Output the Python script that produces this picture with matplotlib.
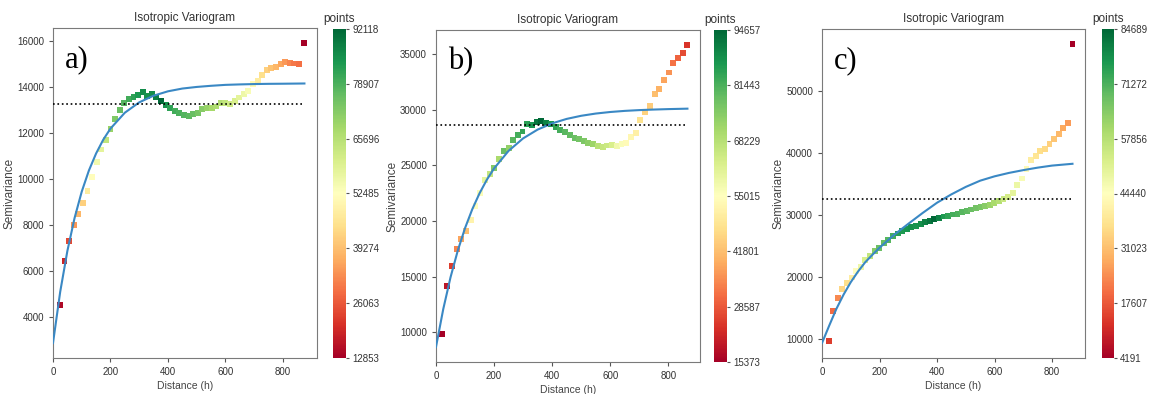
import numpy as np
import matplotlib.pyplot as plt

plt.rcParams['font.family'] = ['Liberation Sans', 'DejaVu Sans']

# --- values ---
lags_a = [24, 40, 56, 72, 88, 104, 120, 136, 152, 168, 184, 200, 216, 232, 248, 264, 280, 296,
          312, 328, 344, 360, 376, 392, 408, 424, 440, 456, 472, 488, 504, 520, 536, 552, 568,
          584, 600, 616, 632, 648, 664, 680, 696, 712, 728, 744, 760, 776, 792, 808, 824, 840,
          856, 875]
gamma_a = [4510, 6450, 7290, 7980, 8470, 8950, 9490, 10070, 10730, 11280, 11700, 12160, 12620,
           12990, 13320, 13470, 13580, 13640, 13790, 13610, 13680, 13540, 13390, 13200, 13100,
           12960, 12880, 12780, 12740, 12810, 12880, 13030, 13100, 13100, 13150, 13290, 13320,
           13250, 13390, 13540, 13680, 13830, 14120, 14270, 14520, 14750, 14810, 14850, 14980,
           15070, 15040, 15020, 15000, 15910]
counts_a = [14500, 19000, 24000, 34000, 38000, 42000, 48000, 52000, 55000, 58000, 64000, 70000,
            73000, 76000, 78000, 80000, 82000, 84000, 86000, 85000, 86000, 88000, 92118, 85000,
            82000, 80000, 79000, 78000, 77000, 76000, 74000, 72000, 70000, 68000, 67000, 66000,
            64000, 62000, 60000, 58000, 56000, 54000, 51000, 48000, 45000, 42000, 40000, 38000,
            36000, 34000, 32000, 30000, 29000, 12853]

lags_b = [22, 38, 55, 71, 87, 103, 120, 136, 152, 168, 185, 201, 217, 233, 250, 266, 282, 298,
          314, 331, 347, 363, 380, 396, 412, 428, 444, 461, 477, 493, 509, 525, 542, 558, 574,
          590, 607, 623, 639, 655, 672, 688, 704, 720, 736, 753, 769, 785, 801, 817, 834, 850,
          866]
gamma_b = [9820, 14190, 15990, 17520, 18360, 19110, 20100, 21390, 22500, 23700, 24200, 24810,
           25560, 26310, 26550, 27300, 27740, 28050, 28730, 28640, 28940, 29030, 28850, 28730,
           28490, 28190, 28040, 27740, 27440, 27350, 27230, 27050, 26900, 26760, 26670, 26790,
           26820, 26760, 26900, 27050, 27590, 27950, 29090, 29840, 30350, 31450, 31880, 32690,
           33350, 34190, 34640, 35090, 35810]
counts_b = [15373, 19000, 25000, 34000, 38000, 42000, 52000, 55000, 56000, 60000, 66000, 75000,
            70000, 78000, 73000, 80000, 82000, 84000, 85000, 87000, 92000, 94657, 90000, 86000,
            84000, 82000, 80000, 79000, 78000, 77000, 76000, 74000, 72000, 68000, 66000, 65000,
            63000, 58000, 56000, 54000, 53000, 51000, 48000, 45000, 44000, 42000, 40000, 38000,
            36000, 32000, 30000, 27000, 24000]

lags_c = [23, 39, 55, 71, 87, 103, 119, 135, 151, 167, 183, 199, 215, 231, 247, 263, 279, 295,
          311, 327, 343, 359, 375, 391, 407, 423, 439, 455, 471, 487, 503, 519, 535, 551, 567,
          583, 599, 615, 631, 647, 663, 679, 695, 711, 727, 743, 759, 775, 791, 807, 823, 839,
          855, 871]
gamma_c = [9730, 14560, 16610, 18170, 19050, 19950, 21050, 21700, 22750, 23400, 24250, 24700,
           25500, 26000, 26600, 27050, 27400, 27750, 28050, 28250, 28600, 28850, 29100, 29380,
           29600, 29780, 29900, 30100, 30200, 30450, 30700, 30900, 31160, 31300, 31500, 31700,
           31950, 32300, 32600, 32850, 33600, 34800, 35900, 37400, 38900, 39500, 40350, 40650,
           41500, 42300, 43000, 44000, 44900, 57570]
counts_c = [14000, 20000, 24000, 35000, 36500, 40000, 44000, 48000, 52000, 56000, 64000, 68000,
            68000, 70000, 72000, 75000, 76000, 77000, 78000, 77000, 78000, 80000, 82000, 84689,
            80000, 76000, 74000, 72000, 71000, 70000, 69000, 68000, 67000, 66000, 64000, 62000,
            60000, 58000, 55000, 53000, 50000, 48500, 46000, 43000, 40000, 38000, 36500, 35500,
            34000, 32000, 30000, 28000, 26000, 4191]

# fitted model curves
model_x = [0, 25, 50, 75, 100, 125, 150, 175, 200, 250, 300, 350, 400, 450, 500, 550, 600,
           650, 700, 750, 800, 870]
model_a = [2870, 5090, 6870, 8300, 9450, 10370, 11110, 11710, 12190, 12880, 13330, 13620,
           13810, 13930, 14000, 14050, 14090, 14110, 14125, 14135, 14140, 14150]
model_b = [8700, 12100, 14950, 17350, 19370, 21070, 22500, 23710, 24730, 26310, 27430, 28220,
           28780, 29180, 29460, 29660, 29800, 29900, 29970, 30020, 30060, 30100]
model_c = [9400, 12200, 14900, 17200, 19200, 20900, 22400, 23600, 24750, 26800, 28600, 30350,
           32000, 33350, 34550, 35550, 36250, 36800, 37250, 37650, 37980, 38270]

# sample variance (dotted line)
var_a = 13250
var_b = 28600
var_c = 32600

panel_labels = ['a)', 'b)', 'c)']

W, H = 1153, 394
fig = plt.figure(figsize=(W / 100, H / 100), dpi=100)


def box(left, top, right, bottom):
    return [left / W, 1 - bottom / H, (right - left) / W, (bottom - top) / H]


ax_boxes = [box(53, 28, 317, 358), box(436, 30, 700, 362), box(822, 29, 1085, 358)]
cb_boxes = [box(333, 29, 346, 358), box(714, 30, 727, 362), box(1102, 29, 1114, 358)]

panels = [
    (lags_a, gamma_a, counts_a, model_a, var_a),
    (lags_b, gamma_b, counts_b, model_b, var_b),
    (lags_c, gamma_c, counts_c, model_c, var_c),
]

txt = '#333333'
for i, (lags, gamma, counts, model, var) in enumerate(panels):
    ax = fig.add_axes(ax_boxes[i])
    sc = ax.scatter(lags, gamma, c=counts, cmap='RdYlGn', marker='s', s=18,
                    linewidths=0, zorder=2)
    ax.plot(model_x[:-1] + [lags[-1]], model, color='#3a88c4', lw=1.5, zorder=3)
    ax.plot([0, lags[-1]], [var, var], ':', color='black', lw=1.2, zorder=3)
    ax.set_xlim(0, lags[-1] * 1.05)
    ax.set_xticks([0, 200, 400, 600, 800])
    ax.set_title('Isotropic Variogram', fontsize=8.5, color=txt, pad=5)
    ax.set_xlabel('Distance (h)', fontsize=7.5, color='#444444', labelpad=3)
    ax.set_ylabel('Semivariance', fontsize=8.5, color='#444444', labelpad=1)
    ax.tick_params(labelsize=7, colors='#555555', labelcolor=txt, length=3)
    for s in ax.spines.values():
        s.set_color('#7a7a7a')
    ax.text(0.045, 0.905, panel_labels[i], transform=ax.transAxes, fontsize=22,
            family=['Liberation Serif', 'DejaVu Serif'], va='center', ha='left')

    cax = fig.add_axes(cb_boxes[i])
    cticks = np.linspace(min(counts), max(counts), 7)
    cb = fig.colorbar(sc, cax=cax, ticks=cticks)
    cb.ax.set_yticklabels([str(int(t)) for t in cticks])
    cb.ax.tick_params(labelsize=7, colors='#555555', labelcolor=txt, length=2.5, pad=2)
    cb.outline.set_visible(False)
    cax.set_title('points', fontsize=8.5, color=txt, pad=5)

fig.savefig('out.png', dpi=100)
